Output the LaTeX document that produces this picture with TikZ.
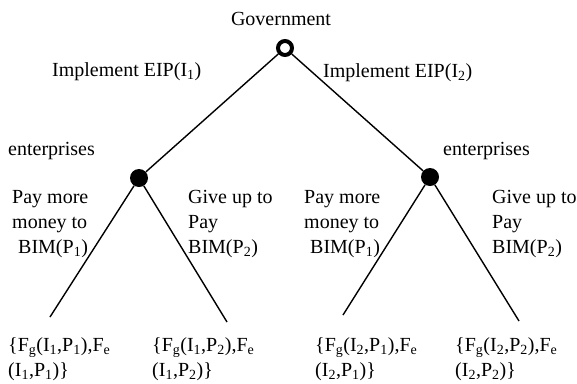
\documentclass[tikz,border=0pt]{standalone}
\usepackage{fontspec}
\setmainfont{Liberation Serif}
\usetikzlibrary{positioning}
\newcommand{\sbs}[1]{\textsubscript{#1}}
\tikzset{
  lbl/.style={inner sep=0pt, anchor=base west, align=left,
    font=\fontsize{20}{25}\selectfont},
  govnode/.style={circle, draw, line width=4pt, minimum size=14pt, inner sep=0pt},
  entnode/.style={circle, fill, minimum size=18pt, inner sep=0pt},
  branch/.style={line width=1.4pt}
}
\begin{document}
\begin{tikzpicture}[x=1pt, y=-1pt]
  \useasboundingbox (0,0) rectangle (577,383);
  % decision nodes
  \node[govnode] (gov) at (285,48) {};
  \node[entnode] (ent1) at (139,178) {};
  \node[entnode] (ent2) at (430,177) {};
  % ends of the last branches
  \coordinate (end11) at (50,317);
  \coordinate (end12) at (227,322);
  \coordinate (end21) at (343,315);
  \coordinate (end22) at (519,321);

  \draw[branch] (gov) -- (ent1);
  \draw[branch] (gov) -- (ent2);
  \draw[branch] (ent1) -- (end11);
  \draw[branch] (ent1) -- (end12);
  \draw[branch] (ent2) -- (end21);
  \draw[branch] (ent2) -- (end22);

  % players and moves
  \node[lbl, anchor=base] (govlbl) at (281,25) {Government};
  \node[lbl] (imp1) at (52,76) {Implement EIP(I\sbs{1})};
  \node[lbl] (imp2) at (323,77) {Implement EIP(I\sbs{2})};
  \node[lbl] (entlbl1) at (8,155) {enterprises};
  \node[lbl] (entlbl2) at (443,155) {enterprises};
  \node[lbl] (pay1) at (12,253) {Pay more\\money to\\\hspace*{6pt}BIM(P\sbs{1})};
  \node[lbl] (give1) at (188,253) {Give up to\\Pay\\BIM(P\sbs{2})};
  \node[lbl] (pay2) at (304,253) {Pay more\\money to\\\hspace*{6pt}BIM(P\sbs{1})};
  \node[lbl] (give2) at (492,253) {Give up to\\Pay\\BIM(P\sbs{2})};

  % payoffs
  \node[lbl] (pay11) at (8,376) {\{F\sbs{g}(I\sbs{1},P\sbs{1}),F\sbs{e}\\(I\sbs{1},P\sbs{1})\}};
  \node[lbl] (pay12) at (152,376) {\{F\sbs{g}(I\sbs{1},P\sbs{2}),F\sbs{e}\\(I\sbs{1},P\sbs{2})\}};
  \node[lbl] (pay21) at (315,376) {\{F\sbs{g}(I\sbs{2},P\sbs{1}),F\sbs{e}\\(I\sbs{2},P\sbs{1})\}};
  \node[lbl] (pay22) at (455,376) {\{F\sbs{g}(I\sbs{2},P\sbs{2}),F\sbs{e}\\(I\sbs{2},P\sbs{2})\}};
\end{tikzpicture}
\end{document}
